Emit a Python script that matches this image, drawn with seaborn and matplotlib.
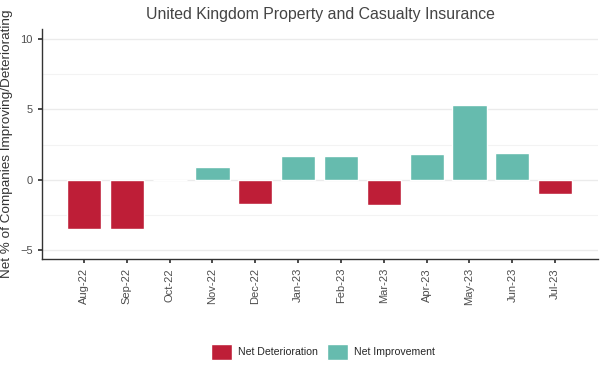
import matplotlib
matplotlib.use("Agg")
import matplotlib.pyplot as plt
import seaborn as sns
import pandas as pd
from matplotlib.patches import Patch
from matplotlib.ticker import MultipleLocator

months = ["Aug-22", "Sep-22", "Oct-22", "Nov-22", "Dec-22", "Jan-23",
          "Feb-23", "Mar-23", "Apr-23", "May-23", "Jun-23", "Jul-23"]
values = [-3.5, -3.5, 0.0, 0.9, -1.7, 1.7, 1.7, -1.8, 1.8, 5.3, 1.9, -1.0]
series_names = ["Net Deterioration", "Net Improvement"]
colors = {"Net Deterioration": "#BE1E37", "Net Improvement": "#66BBAE"}

df = pd.DataFrame({
    "month": months,
    "value": values,
    "kind": [series_names[1] if v > 0 else series_names[0] for v in values],
})

sns.set_theme(style="white")
plt.rcParams['font.family'] = ['Liberation Sans', 'DejaVu Sans']

fig = plt.figure(figsize=(6.05, 3.78), dpi=100)
ax = fig.add_axes([0.0694, 0.315, 0.919, 0.608])

sns.barplot(data=df, x="month", y="value", hue="kind", order=months,
            hue_order=series_names, palette=colors, dodge=False,
            width=0.8, saturation=1, ax=ax, legend=False)

ax.set_xlim(-0.98, 12.0)
ax.set_ylim(-5.64, 10.71)
ax.yaxis.set_major_locator(MultipleLocator(5))
ax.yaxis.set_minor_locator(MultipleLocator(2.5))
ax.grid(True, which="major", axis="y", color="#EBEBEB", linewidth=1)
ax.grid(True, which="minor", axis="y", color="#F3F3F3", linewidth=0.8)
ax.set_axisbelow(True)

for s in ["top", "right"]:
    ax.spines[s].set_visible(False)
for s in ["left", "bottom"]:
    ax.spines[s].set_color("#333333")
    ax.spines[s].set_linewidth(1.0)

ax.tick_params(axis="both", which="major", length=3, color="#333333",
               labelsize=8, labelcolor="#4D4D4D", left=True, bottom=True)
ax.tick_params(axis="y", which="minor", length=0)
plt.setp(ax.get_xticklabels(), rotation=90)

ax.set_xlabel("")
ax.set_ylabel("Net % of Companies Improving/Deteriorating", fontsize=9.7,
              color="#333333")
ax.yaxis.set_label_coords(-0.052, 0.50)
ax.set_title("United Kingdom Property and Casualty Insurance", fontsize=11.4,
             color="#444444", pad=7)

handles = [Patch(facecolor=colors[n], label=n) for n in series_names]
fig.legend(handles=handles, loc="center", bbox_to_anchor=(0.534, 0.069),
           ncol=2, frameon=False, fontsize=7.6, handlelength=2.0,
           handleheight=2.0, columnspacing=0.8, handletextpad=0.6)

fig.savefig("out.png", dpi=100)
